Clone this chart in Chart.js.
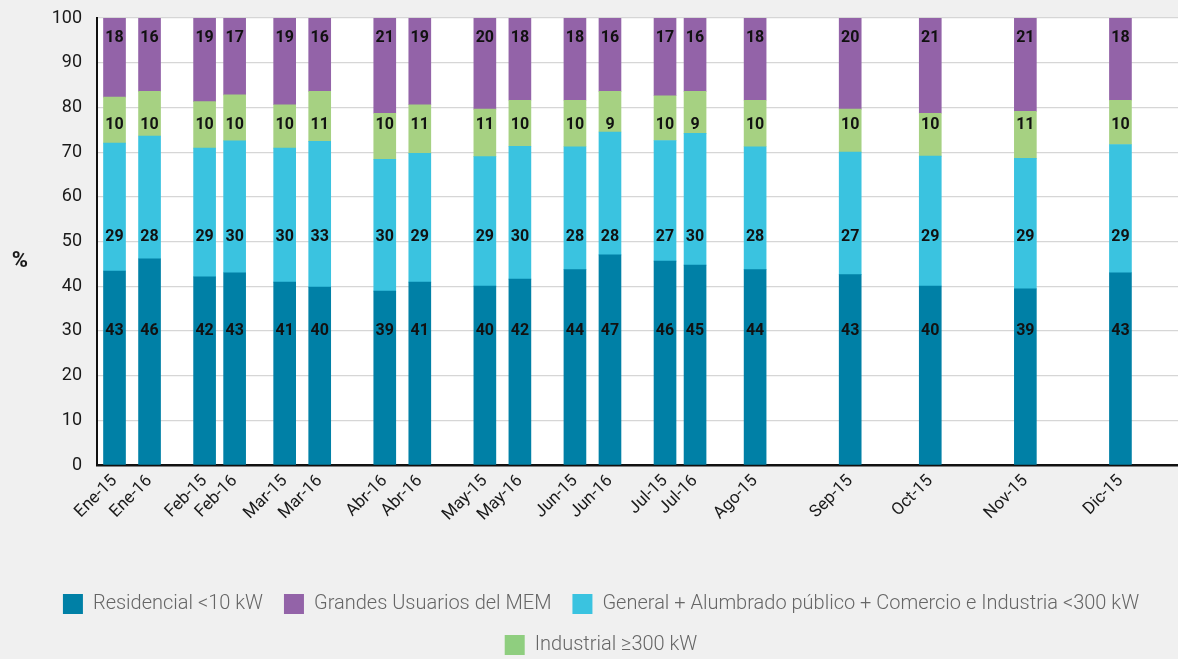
<!DOCTYPE html>
<html>
<head>
<meta charset="utf-8">
<title>Consumo por tipo de usuario</title>
<script src="https://cdn.jsdelivr.net/npm/chart.js@4.4.1/dist/chart.umd.min.js"></script>
<style>
body { margin: 0; background: #f0f0f0; }
canvas { display: block; }
</style>
</head>
<body>
<canvas id="myChart" width="1178" height="659"></canvas>
<script>
// datos (%), de abajo hacia arriba en cada barra
var meses = ['Ene-15','Ene-16','Feb-15','Feb-16','Mar-15','Mar-16','Abr-16','Abr-16','May-15','May-16',
             'Jun-15','Jun-16','Jul-15','Jul-16','Ago-15','Sep-15','Oct-15','Nov-15','Dic-15'];
var residencial = [43.4,46.1,42.1,43.0,40.9,39.8,38.9,40.9,40.0,41.6,43.7,47.0,45.6,44.7,43.7,42.6,40.0,39.4,43.0];
var general     = [28.6,27.5,28.8,29.5,30.0,32.6,29.5,28.8,29.0,29.7,27.5,27.5,27.0,29.5,27.5,27.4,29.1,29.2,28.7];
var industrial  = [10.3,10.0,10.4,10.3,9.7,11.2,10.3,10.9,10.6,10.3,10.4,9.1,10.0,9.4,10.4,9.6,9.6,10.5,9.9];
var grandes     = [17.7,16.4,18.7,17.2,19.4,16.4,21.3,19.4,20.4,18.4,18.4,16.4,17.4,16.4,18.4,20.4,21.3,20.9,18.4];
var nombres = ['Residencial <10 kW','General + Alumbrado público + Comercio e Industria <300 kW',
               'Industrial \u2265300 kW','Grandes Usuarios del MEM'];
var ticksY = [0,10,20,30,40,50,60,70,80,90,100];

// layout: el eje x se divide en casillas finas, cada mes ocupa una casilla
var totalCasillas = 216;
var casilla = [3,10,21,27,37,44,57,64,77,84,95,102,113,119,131,150,166,185,204];
var colores = ['#0080a6','#3ac3e0','#a6d182','#9363a8'];
var nivelEtiqueta = [30, 51, 76, 95.5];
var ordenLeyenda = [0, 2, 3, 1];

function armar(valores)
{
    var out = [];
    for (var i = 0; i < totalCasillas; i++) out.push(null);
    for (var j = 0; j < valores.length; j++) out[casilla[j]] = valores[j];
    return out;
}

var etiquetas = armar(meses).map(function(m){ return m === null ? '' : m; });
var series = [residencial, general, industrial, grandes];
var datasets = [];
for (var k = 0; k < series.length; k++)
{
    datasets.push({
        label: nombres[k],
        data: armar(series[k]),
        backgroundColor: colores[k],
        borderWidth: 0,
        barThickness: 22
    });
}

var fondo = {
    id: 'fondo',
    beforeDraw: function(chart) {
        var c = chart.ctx, a = chart.chartArea;
        c.save();
        c.fillStyle = '#f0f0f0';
        c.fillRect(0, 0, chart.width, chart.height);
        c.fillStyle = '#ffffff';
        c.fillRect(a.left, a.top, a.right - a.left, a.bottom - a.top);
        c.restore();
    }
};

var valores = {
    id: 'valores',
    afterDatasetsDraw: function(chart) {
        var c = chart.ctx, y = chart.scales.y;
        c.save();
        c.font = 'bold 16px Roboto';
        c.fillStyle = '#111';
        c.textAlign = 'center';
        c.textBaseline = 'middle';
        chart.data.datasets.forEach(function(ds, i) {
            var meta = chart.getDatasetMeta(i);
            meta.data.forEach(function(bar, j) {
                var v = ds.data[j];
                if (v === null) return;
                c.fillText(Math.round(v), bar.x, y.getPixelForValue(nivelEtiqueta[i]));
            });
        });
        // unidad del eje y
        c.font = 'bold 22px Roboto';
        c.fillStyle = '#1a1a1a';
        c.fillText('%', 20, y.getPixelForValue(45.5));
        c.restore();
    }
};

var ctx = document.getElementById('myChart');
var grafica = new Chart(ctx, {
    type: 'bar',
    data: { labels: etiquetas, datasets: datasets },
    plugins: [fondo, valores],
    options: {
        responsive: false,
        animation: false,
        layout: { padding: { left: 24, right: 0, top: 18, bottom: -6 } },
        plugins: {
            tooltip: { enabled: false },
            legend: {
                position: 'bottom',
                labels: {
                    boxWidth: 20,
                    boxHeight: 20,
                    padding: 21,
                    color: '#666',
                    font: { family: 'Roboto', size: 20, weight: '300' },
                    sort: function(a, b) { return ordenLeyenda[a.datasetIndex] - ordenLeyenda[b.datasetIndex]; },
                    generateLabels: function(chart) {
                        var items = Chart.defaults.plugins.legend.labels.generateLabels(chart);
                        items.forEach(function(it) {
                            it.lineWidth = 0;
                            if (it.datasetIndex === 2) it.fillStyle = '#8fce7f';
                        });
                        return items;
                    }
                }
            }
        },
        scales: {
            x: {
                stacked: true,
                afterFit: function(s) { s.height = 108; s.paddingLeft = 0; s.paddingRight = 0; },
                grid: { display: false, drawTicks: false },
                border: { display: true, color: '#111', width: 2.5 },
                ticks: {
                    autoSkip: false,
                    minRotation: 45,
                    maxRotation: 45,
                    padding: 6,
                    color: '#1a1a1a',
                    font: { family: 'Roboto', size: 17 }
                }
            },
            y: {
                stacked: true,
                min: 0,
                max: 100,
                afterFit: function(s) { s.width = 73; s.paddingTop = 0; s.paddingBottom = 0; },
                afterBuildTicks: function(s) { s.ticks = ticksY.map(function(v){ return { value: v }; }); },
                grid: { color: '#d6d6d6', lineWidth: 1.2, drawTicks: false },
                border: { display: true, color: '#111', width: 2 },
                ticks: {
                    padding: 15,
                    color: '#1a1a1a',
                    font: { family: 'Roboto', size: 18 }
                }
            }
        }
    }
});
</script>
</body>
</html>
